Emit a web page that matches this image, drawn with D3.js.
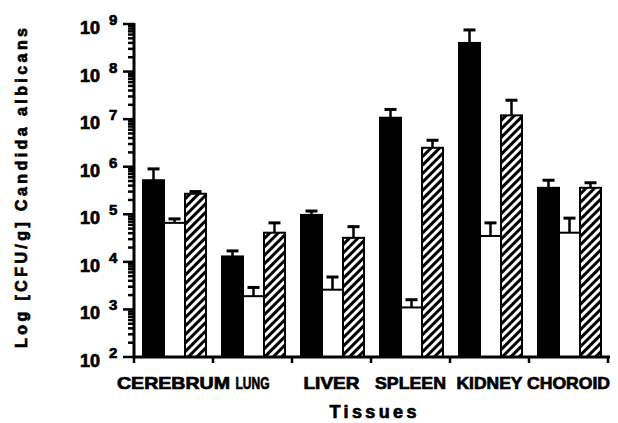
<!DOCTYPE html>
<html>
<head>
<meta charset="utf-8">
<script src="https://cdn.jsdelivr.net/npm/d3@7"></script>
<style>
  body { margin: 0; background: #fff; }
  svg { display: block; font-family: "Liberation Sans", Arial, Helvetica, sans-serif; }
  .heavy { font-weight: bold; stroke: #000; stroke-width: 0.7px; fill: #000; }
</style>
</head>
<body>
<div id="chart"></div>
<script>
// tissues and CFU/g (bar top, upper error bar)
const tissues = ["CEREBRUM", "LUNG", "LIVER", "SPLEEN", "KIDNEY", "CHOROID"];
const solidVals = [5.2e5, 1.3e4, 9.7e4, 1.07e7, 4.0e8, 3.6e5];
const solidErr  = [9.0e5, 1.7e4, 1.17e5, 1.6e7, 7.5e8, 5.2e5];
const openVals  = [6.6e4, 1.9e3, 2.6e3, 1.1e3, 3.5e4, 4.1e4];
const openErr   = [8.0e4, 2.9e3, 4.8e3, 1.6e3, 6.6e4, 8.3e4];
const hatchVals = [2.7e5, 4.1e4, 3.2e4, 2.5e6, 1.2e7, 3.6e5];
const hatchErr  = [3.0e5, 6.6e4, 5.5e4, 3.6e6, 2.5e7, 4.6e5];
const exponents = [2, 3, 4, 5, 6, 7, 8, 9];
const labelWidths = [113, 34, 56, 71, 66, 83];

const W = 618, H = 423;
const plotL = 134, plotR = 608, plotT = 24, plotB = 357;

const svg = d3.select("#chart").append("svg")
  .attr("width", W)
  .attr("height", H);

const defs = svg.append("defs");
const pat = defs.append("pattern")
  .attr("id", "hatch")
  .attr("patternUnits", "userSpaceOnUse")
  .attr("width", 6)
  .attr("height", 6)
  .attr("patternTransform", "rotate(45)");
pat.append("rect").attr("width", 6).attr("height", 6).attr("fill", "#fff");
pat.append("rect").attr("x", 0).attr("width", 3).attr("height", 6).attr("fill", "#000");

const x = d3.scaleBand().domain(tissues).range([plotL, plotR]).padding(0);
const edges = d3.scaleLinear().domain([0, tissues.length]).range([plotL, plotR]);
const inner = d3.scaleBand().domain(["solid", "open", "hatch"])
  .range([9, 9 + 63]).padding(0);
const y = d3.scaleLog().domain([1e2, 1e9]).range([plotB, plotT]);

const series = [
  {key: "solid", vals: solidVals, err: solidErr, fill: "#000"},
  {key: "open", vals: openVals, err: openErr, fill: "#fff"},
  {key: "hatch", vals: hatchVals, err: hatchErr, fill: "url(#hatch)"}
];

const rows = [];
series.forEach(s => {
  tissues.forEach((t, i) => {
    rows.push({tissue: t, key: s.key, v: s.vals[i], e: s.err[i], fill: s.fill});
  });
});

const g = svg.append("g");

// error bars (drawn first so the bar top covers the stem base)
const eb = g.selectAll(".err").data(rows).join("g").attr("class", "err");
eb.append("line")
  .attr("x1", d => x(d.tissue) + inner(d.key) + inner.bandwidth() / 2)
  .attr("x2", d => x(d.tissue) + inner(d.key) + inner.bandwidth() / 2)
  .attr("y1", d => y(d.v))
  .attr("y2", d => y(d.e))
  .attr("stroke", "#000")
  .attr("stroke-width", 2.5);
eb.append("rect")
  .attr("x", d => x(d.tissue) + inner(d.key) + inner.bandwidth() / 2 - 6)
  .attr("y", d => y(d.e) - 1.5)
  .attr("width", 12)
  .attr("height", 3)
  .attr("fill", "#000");

g.selectAll(".bar").data(rows).join("rect")
  .attr("class", "bar")
  .attr("x", d => x(d.tissue) + inner(d.key))
  .attr("y", d => y(d.v))
  .attr("width", inner.bandwidth())
  .attr("height", d => plotB - y(d.v))
  .attr("fill", d => d.fill)
  .attr("stroke", "#000")
  .attr("stroke-width", 2);

// y axis: log ticks 1..9 in each decade, majors longer
const logTicks = [];
exponents.forEach(p => {
  const n = p === 9 ? 1 : 9;
  for (let k = 1; k <= n; k++) logTicks.push({v: k * Math.pow(10, p), major: k === 1});
});
const yAxis = svg.append("g").attr("class", "y-axis");
yAxis.append("line")
  .attr("x1", plotL).attr("x2", plotL)
  .attr("y1", plotT - 1).attr("y2", plotB + 1)
  .attr("stroke", "#000").attr("stroke-width", 3);
yAxis.selectAll(".ytick").data(logTicks).join("line")
  .attr("class", "ytick")
  .attr("x1", d => plotL - (d.major ? 11 : 6))
  .attr("x2", plotL)
  .attr("y1", d => y(d.v))
  .attr("y2", d => y(d.v))
  .attr("stroke", "#000")
  .attr("stroke-width", 2.5);

svg.append("g").selectAll("text").data(exponents).join("text")
  .attr("class", "heavy")
  .attr("x", 100)
  .attr("y", d => y(Math.pow(10, d)) + 10)
  .attr("text-anchor", "end")
  .attr("font-size", 18)
  .text("10");
svg.append("g").selectAll("text").data(exponents).join("text")
  .attr("class", "heavy")
  .attr("x", 109)
  .attr("y", d => y(Math.pow(10, d)) + 1)
  .attr("font-size", 15)
  .text(d => d);

// x axis: ticks at group boundaries
const xAxis = svg.append("g").attr("class", "x-axis");
xAxis.append("line")
  .attr("x1", plotL - 1).attr("x2", plotR + 2)
  .attr("y1", plotB).attr("y2", plotB)
  .attr("stroke", "#000").attr("stroke-width", 3);
xAxis.selectAll(".xtick").data(d3.range(tissues.length + 1)).join("line")
  .attr("class", "xtick")
  .attr("x1", d => edges(d)).attr("x2", d => edges(d))
  .attr("y1", plotB).attr("y2", plotB + 6)
  .attr("stroke", "#000").attr("stroke-width", 2.5);

svg.append("g").selectAll("text").data(tissues).join("text")
  .attr("class", "heavy")
  .attr("x", d => x(d) + x.bandwidth() / 2)
  .attr("y", 389)
  .attr("text-anchor", "middle")
  .attr("font-size", 17)
  .attr("textLength", (d, i) => labelWidths[i])
  .attr("lengthAdjust", "spacingAndGlyphs")
  .text(d => d);

svg.append("text")
  .attr("class", "heavy")
  .attr("x", 373)
  .attr("y", 418)
  .attr("text-anchor", "middle")
  .attr("font-size", 18)
  .attr("textLength", 87)
  .attr("lengthAdjust", "spacing")
  .text("Tissues");

svg.append("text")
  .attr("class", "heavy")
  .attr("transform", "translate(27,188) rotate(-90)")
  .attr("text-anchor", "middle")
  .attr("font-size", 16)
  .attr("textLength", 320)
  .attr("lengthAdjust", "spacing")
  .text("Log [CFU/g] Candida albicans");
</script>
</body>
</html>
